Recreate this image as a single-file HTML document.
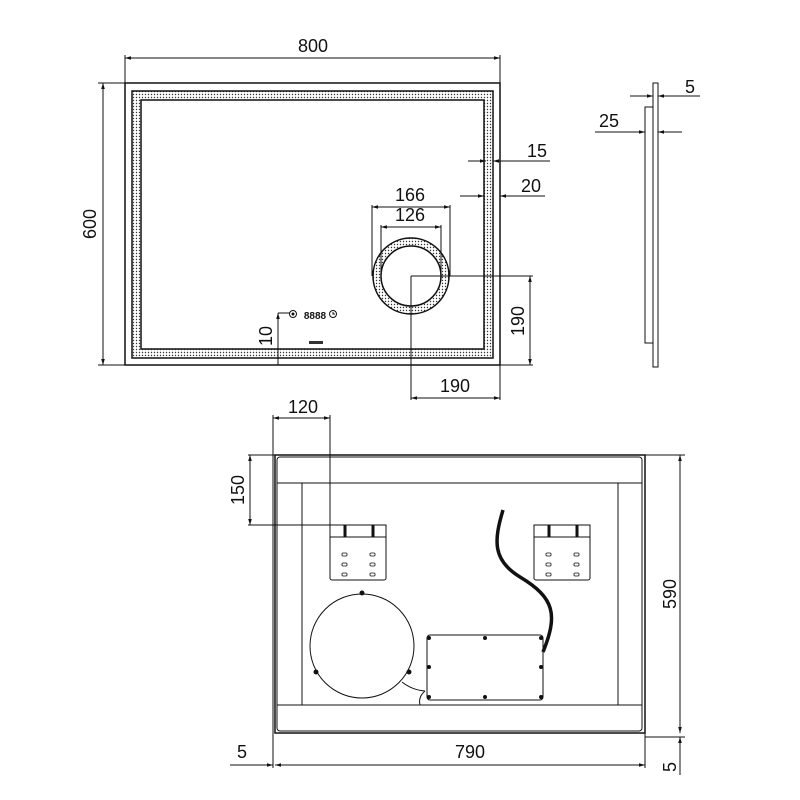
<!DOCTYPE html>
<html><head><style>body{margin:0;background:#fff}svg{display:block}text{font-family:"Liberation Sans",sans-serif;font-size:18px;fill:#111}</style></head><body>
<svg width="800" height="800" viewBox="0 0 800 800" xmlns="http://www.w3.org/2000/svg">
<defs>
<pattern id="d" width="3" height="3" patternUnits="userSpaceOnUse"><circle cx="1.5" cy="1.5" r="0.7" fill="#333"/></pattern>
<marker id="a" viewBox="0 0 10 10" refX="10" refY="5" markerWidth="8" markerHeight="6" orient="auto-start-reverse"><path d="M0,2 L10,5 L0,8z" fill="#111"/></marker>
</defs>
<g stroke="#111" fill="none" stroke-width="1">
<rect x="125" y="83" width="375" height="282" stroke-width="1.5"/>
<path fill-rule="evenodd" fill="url(#d)" d="M132,91H493V358H132Z M141,100V349H484V100Z"/>
<rect x="132" y="91" width="361" height="267" stroke-width="1.5"/>
<rect x="141" y="100" width="343" height="249" stroke-width="1.5"/>
<path fill-rule="evenodd" fill="url(#d)" d="M373,276a38,38 0 1,0 76,0a38,38 0 1,0 -76,0Z M381,276a30,30 0 1,0 60,0a30,30 0 1,0 -60,0Z"/>
<circle cx="411" cy="276" r="38" stroke-width="1.5"/>
<circle cx="411" cy="276" r="30" stroke-width="1.5"/>
<path d="M125,83V55M500,83V55"/>
<line x1="125" y1="58" x2="500" y2="58" marker-start="url(#a)" marker-end="url(#a)"/>
<path d="M98,83H125M98,365H125"/>
<line x1="103" y1="83" x2="103" y2="365" marker-start="url(#a)" marker-end="url(#a)"/>
<path d="M372,276V205M450,276V205M381,276V225M441,276V225"/>
<line x1="372" y1="207" x2="450" y2="207" marker-start="url(#a)" marker-end="url(#a)"/>
<line x1="381" y1="227" x2="441" y2="227" marker-start="url(#a)" marker-end="url(#a)"/>
<path d="M411,276H533M500,365H533M411,276V400M500,365V400"/>
<line x1="530" y1="276" x2="530" y2="365" marker-start="url(#a)" marker-end="url(#a)"/>
<line x1="411" y1="398" x2="500" y2="398" marker-start="url(#a)" marker-end="url(#a)"/>
<line x1="468" y1="161" x2="486" y2="161" marker-end="url(#a)"/>
<line x1="550" y1="161" x2="493" y2="161" marker-end="url(#a)"/>
<line x1="460" y1="196" x2="484" y2="196" marker-end="url(#a)"/>
<line x1="545" y1="196" x2="500" y2="196" marker-end="url(#a)"/>
<path d="M290,313H278"/>
<line x1="278" y1="313" x2="278" y2="365" marker-start="url(#a)"/>
<circle cx="293" cy="314" r="3.5"/><circle cx="293" cy="314" r="1" fill="#111"/>
<circle cx="333" cy="314" r="3.5"/><path d="M333,312V314H335"/>
<rect x="653" y="83" width="5" height="284"/>
<rect x="645" y="107" width="8" height="236"/>
<line x1="630" y1="96" x2="653" y2="96" marker-end="url(#a)"/>
<line x1="700" y1="96" x2="658" y2="96" marker-end="url(#a)"/>
<line x1="595" y1="132" x2="645" y2="132" marker-end="url(#a)"/>
<line x1="682" y1="132" x2="658" y2="132" marker-end="url(#a)"/>
<rect x="275" y="455" width="370" height="278" stroke-width="1.5"/>
<rect x="277" y="457" width="365" height="274" rx="3"/>
<path d="M277,483H642M277,705H642M302,483V705M618,483V705"/>
<path d="M330,525H386V578a2,2 0 0 1-2,2H332a2,2 0 0 1-2-2Z M330,537H386"/>
<path d="M534,525H590V578a2,2 0 0 1-2,2H536a2,2 0 0 1-2-2Z M534,537H590"/>
<g stroke-width="3"><path d="M345,525V537M373,525V537M549,525V537M577,525V537"/></g>
<g stroke-width="0.8">
<rect x="342" y="553" width="5" height="3" rx="1"/><rect x="342" y="563" width="5" height="3" rx="1"/><rect x="342" y="573" width="5" height="3" rx="1"/>
<rect x="370" y="553" width="5" height="3" rx="1"/><rect x="370" y="563" width="5" height="3" rx="1"/><rect x="370" y="573" width="5" height="3" rx="1"/>
<rect x="546" y="553" width="5" height="3" rx="1"/><rect x="546" y="563" width="5" height="3" rx="1"/><rect x="546" y="573" width="5" height="3" rx="1"/>
<rect x="574" y="553" width="5" height="3" rx="1"/><rect x="574" y="563" width="5" height="3" rx="1"/><rect x="574" y="573" width="5" height="3" rx="1"/>
</g>
<circle cx="362" cy="646" r="52"/>
<circle cx="362" cy="593" r="2" fill="#111"/><circle cx="316" cy="672" r="2" fill="#111"/><circle cx="409" cy="672" r="2" fill="#111"/>
<path d="M402,682Q412,690 425,691M425,691Q418,697 420,705"/>
<rect x="427" y="635" width="116" height="65" rx="3"/>
<g fill="#111"><circle cx="429" cy="638" r="1.5"/><circle cx="485" cy="638" r="1.5"/><circle cx="541" cy="638" r="1.5"/><circle cx="429" cy="667" r="1.5"/><circle cx="541" cy="667" r="1.5"/><circle cx="429" cy="697" r="1.5"/><circle cx="485" cy="697" r="1.5"/><circle cx="541" cy="697" r="1.5"/></g>
<path d="M503,510C494,540 492,560 520,577C555,598 558,615 543,652" stroke-width="3.5"/>
<path d="M273,415V768M330,415V525M248,455H275M248,525H330"/>
<line x1="273" y1="418" x2="330" y2="418" marker-start="url(#a)" marker-end="url(#a)"/>
<line x1="250" y1="455" x2="250" y2="525" marker-start="url(#a)" marker-end="url(#a)"/>
<path d="M645,455H685M645,737H685M645,733V768"/>
<line x1="680" y1="455" x2="680" y2="733" marker-start="url(#a)" marker-end="url(#a)"/>
<line x1="680" y1="775" x2="680" y2="737" marker-end="url(#a)"/>
<line x1="275" y1="765" x2="645" y2="765" marker-start="url(#a)" marker-end="url(#a)"/>
<line x1="230" y1="765" x2="273" y2="765" marker-end="url(#a)"/>
</g>
<text x="313" y="52" text-anchor="middle">800</text>
<text transform="translate(96,224) rotate(-90)" text-anchor="middle">600</text>
<text x="410" y="201" text-anchor="middle">166</text>
<text x="410" y="221" text-anchor="middle">126</text>
<text x="537" y="157" text-anchor="middle">15</text>
<text x="531" y="192" text-anchor="middle">20</text>
<text transform="translate(524,321) rotate(-90)" text-anchor="middle">190</text>
<text x="455" y="392" text-anchor="middle">190</text>
<text transform="translate(272,336) rotate(-90)" text-anchor="middle">10</text>
<text x="315" y="319" text-anchor="middle" style="font-size:10px;font-weight:bold">8888</text>
<rect x="309" y="341" width="14" height="3" fill="#333"/>
<text x="690" y="93" text-anchor="middle">5</text>
<text x="609" y="127" text-anchor="middle">25</text>
<text x="303" y="413" text-anchor="middle">120</text>
<text transform="translate(244,490) rotate(-90)" text-anchor="middle">150</text>
<text transform="translate(676,594) rotate(-90)" text-anchor="middle">590</text>
<text x="470" y="758" text-anchor="middle">790</text>
<text x="242" y="758" text-anchor="middle">5</text>
<text transform="translate(676,767) rotate(-90)" text-anchor="middle">5</text>
</svg>
</body></html>
